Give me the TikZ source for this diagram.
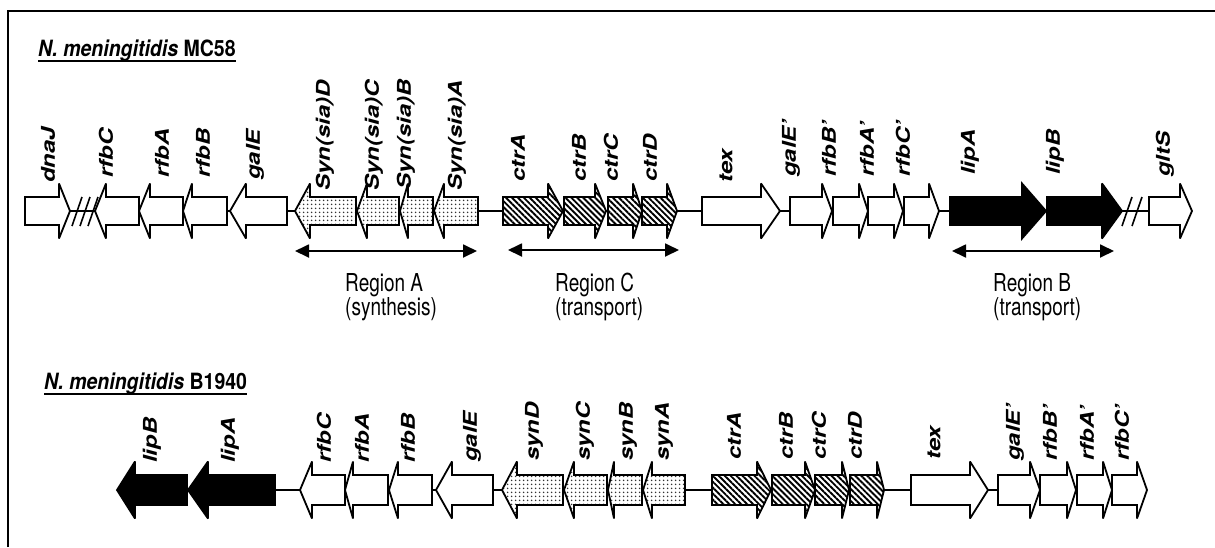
\documentclass[tikz,border=0pt]{standalone}
\usepackage{fontspec}
\usepackage{graphicx}
\setmainfont{TeX Gyre Heros}
\usetikzlibrary{arrows.meta,patterns.meta}
\newcommand\cy{211}
\newcommand\bh{14}
\newcommand\hh{27.5}
% #1 style, #2 tail x, #3 head-base x, #4 tip x
\newcommand\genearrow[4]{\draw[#1] (#2,\cy-\bh) -- (#3,\cy-\bh) -- (#3,\cy-\hh) -- (#4,\cy) -- (#3,\cy+\hh) -- (#3,\cy+\bh) -- (#2,\cy+\bh) -- cycle;}
% #1 name, #2 x, #3 bottom y, #4 text
\newcommand\genelabel[4]{\node[glab] (#1) at (#2,#3) {\scalebox{1.26}[1]{#4}};}
\begin{document}
\begin{tikzpicture}[x=1pt,y=-1pt,
  outl/.style={line width=1.8pt, line join=miter, miter limit=3},
  whitegene/.style={outl, draw=black, fill=white},
  blackgene/.style={outl, draw=black, fill=black},
  dotgene/.style={outl, draw=black, preaction={fill=white}, pattern={Dots[distance=4pt, radius=0.95pt]}, pattern color=black!80},
  hatchgene/.style={outl, draw=black, preaction={fill=white}, pattern={Lines[angle=-45, distance=4.2pt, line width=1.9pt]}, pattern color=black},
  glab/.style={font=\fontsize{19}{22}\selectfont\bfseries\itshape, inner sep=0pt, anchor=west, rotate=90},
  ttl/.style={font=\fontsize{19.5}{22}\selectfont\bfseries, inner sep=0pt, anchor=base west, yscale=1.15},
  reglab/.style={font=\fontsize{19}{18.5}\selectfont, inner sep=0pt, anchor=north west, align=left, yscale=1.3},
  regarrow/.style={line width=1.8pt, {Triangle[length=14pt,width=13pt]}-{Triangle[length=14pt,width=13pt]}},
  baseline/.style={line width=1.8pt},
  brk/.style={line width=1.6pt}
]
\useasboundingbox (0,0) rectangle (1215,547);
% frame
\draw[line width=1.8pt] (8,547) -- (8,11) -- (1215,11);

% ---------- titles ----------
\node[ttl] (title1) at (38,56) {\textit{N. meningitidis} MC58};
\draw[line width=1.5pt] ([yshift=-5pt]title1.base west) -- ([yshift=-5pt]title1.base east);
\node[ttl] (title2) at (44,389) {\textit{N. meningitidis} B1940};
\draw[line width=1.5pt] ([yshift=-5pt]title2.base west) -- ([yshift=-5pt]title2.base east);

% ---------- top row ----------
\renewcommand\cy{211}\renewcommand\bh{14}\renewcommand\hh{27.5}
\coordinate (tL) at (70,211);
\coordinate (tR) at (1149,211);
\draw[baseline] (tL) -- (tR);
\foreach \x in {77,85,93} \draw[brk] (\x-5,226) -- (\x+5,197);
\foreach \x in {1127,1137} \draw[brk] (\x-5,226) -- (\x+5,197);

\genearrow{whitegene}{25}{59}{70}
\genearrow{whitegene}{139}{106}{95}
\genearrow{whitegene}{183}{150}{139}
\genearrow{whitegene}{227}{192}{183}
\genearrow{whitegene}{287}{246}{230}
\genearrow{dotgene}{356}{310}{295}
\genearrow{dotgene}{399}{367}{357}
\genearrow{dotgene}{433}{408}{400}
\genearrow{dotgene}{478}{444}{434}
\genearrow{hatchgene}{503}{548}{563}
\genearrow{hatchgene}{564}{595}{606}
\genearrow{hatchgene}{608}{633}{642}
\genearrow{hatchgene}{642}{667}{677}
\genearrow{whitegene}{702}{761}{780}
\genearrow{whitegene}{790}{822}{832}
\genearrow{whitegene}{833}{859}{868}
\genearrow{whitegene}{868}{894}{903}
\genearrow{whitegene}{904}{929}{939}
\genearrow{blackgene}{950}{1022}{1046}
\genearrow{blackgene}{1047}{1102}{1122}
\genearrow{whitegene}{1149}{1180}{1192}

\genelabel{a1}{48}{183}{dnaJ}
\genelabel{a2}{106}{178}{rfbC}
\genelabel{a3}{162}{178}{rfbA}
\genelabel{a4}{203}{178}{rfbB}
\genelabel{a5}{255}{180}{galE}
\genelabel{a6}{325}{191}{Syn(sia)D}
\genelabel{a7}{374}{191}{Syn(sia)C}
\genelabel{a8}{406}{190}{Syn(sia)B}
\genelabel{a9}{457}{191}{Syn(sia)A}
\genelabel{a10}{518}{182}{ctrA}
\genelabel{a11}{579}{182}{ctrB}
\genelabel{a12}{611}{182}{ctrC}
\genelabel{a13}{650}{182}{ctrD}
\genelabel{a14}{726}{183}{tex}
\genelabel{a15}{791}{177}{galE'}
\genelabel{a16}{829}{177}{rfbB'}
\genelabel{a17}{867}{177}{rfbA'}
\genelabel{a18}{903}{177}{rfbC'}
\genelabel{a19}{970}{175}{lipA}
\genelabel{a20}{1055}{175}{lipB}
\genelabel{a21}{1165}{177}{gltS}

% region arrows
\coordinate (rA1) at (295,251); \coordinate (rA2) at (477,251);
\coordinate (rC1) at (508,250); \coordinate (rC2) at (679,250);
\coordinate (rB1) at (952,251); \coordinate (rB2) at (1114,251);
\draw[regarrow] (rA1) -- (rA2);
\draw[regarrow] (rC1) -- (rC2);
\draw[regarrow] (rB1) -- (rB2);
\node[reglab] (regA) at (345,273) {Region A\\(synthesis)};
\node[reglab] (regC) at (555,273) {Region C\\(transport)};
\node[reglab] (regB) at (993,273) {Region B\\(transport)};

% ---------- bottom row ----------
\renewcommand\cy{490}\renewcommand\bh{15}\renewcommand\hh{28.5}
\coordinate (bL) at (275,490);
\coordinate (bR) at (998,490);
\draw[baseline] (bL) -- (bR);

\genearrow{blackgene}{187}{135}{117}
\genearrow{blackgene}{275}{208}{188}
\genearrow{whitegene}{345}{312}{300}
\genearrow{whitegene}{388}{353}{345}
\genearrow{whitegene}{432}{398}{389}
\genearrow{whitegene}{493}{452}{436}
\genearrow{dotgene}{563}{517}{502}
\genearrow{dotgene}{607}{574}{564}
\genearrow{dotgene}{642}{614}{608}
\genearrow{dotgene}{685}{652}{643}
\genearrow{hatchgene}{712}{757}{771}
\genearrow{hatchgene}{772}{805}{815}
\genearrow{hatchgene}{815}{842}{849}
\genearrow{hatchgene}{850}{877}{884}
\genearrow{whitegene}{911}{970}{988}
\genearrow{whitegene}{998}{1030}{1040}
\genearrow{whitegene}{1040}{1067}{1076}
\genearrow{whitegene}{1077}{1103}{1112}
\genearrow{whitegene}{1112}{1137}{1147}

\genelabel{b1}{152}{463}{lipB}
\genelabel{b2}{230}{463}{lipA}
\genelabel{b3}{324}{463}{rfbC}
\genelabel{b4}{362}{463}{rfbA}
\genelabel{b5}{408}{463}{rfbB}
\genelabel{b6}{472}{462}{galE}
\genelabel{b7}{534}{461}{synD}
\genelabel{b8}{585}{461}{synC}
\genelabel{b9}{628}{461}{synB}
\genelabel{b10}{664}{461}{synA}
\genelabel{b11}{734}{460}{ctrA}
\genelabel{b12}{786}{460}{ctrB}
\genelabel{b13}{819}{460}{ctrC}
\genelabel{b14}{855}{460}{ctrD}
\genelabel{b15}{934}{460}{tex}
\genelabel{b16}{1015}{461}{galE'}
\genelabel{b17}{1050}{461}{rfbB'}
\genelabel{b18}{1087}{461}{rfbA'}
\genelabel{b19}{1122}{461}{rfbC'}
\end{tikzpicture}
\end{document}
